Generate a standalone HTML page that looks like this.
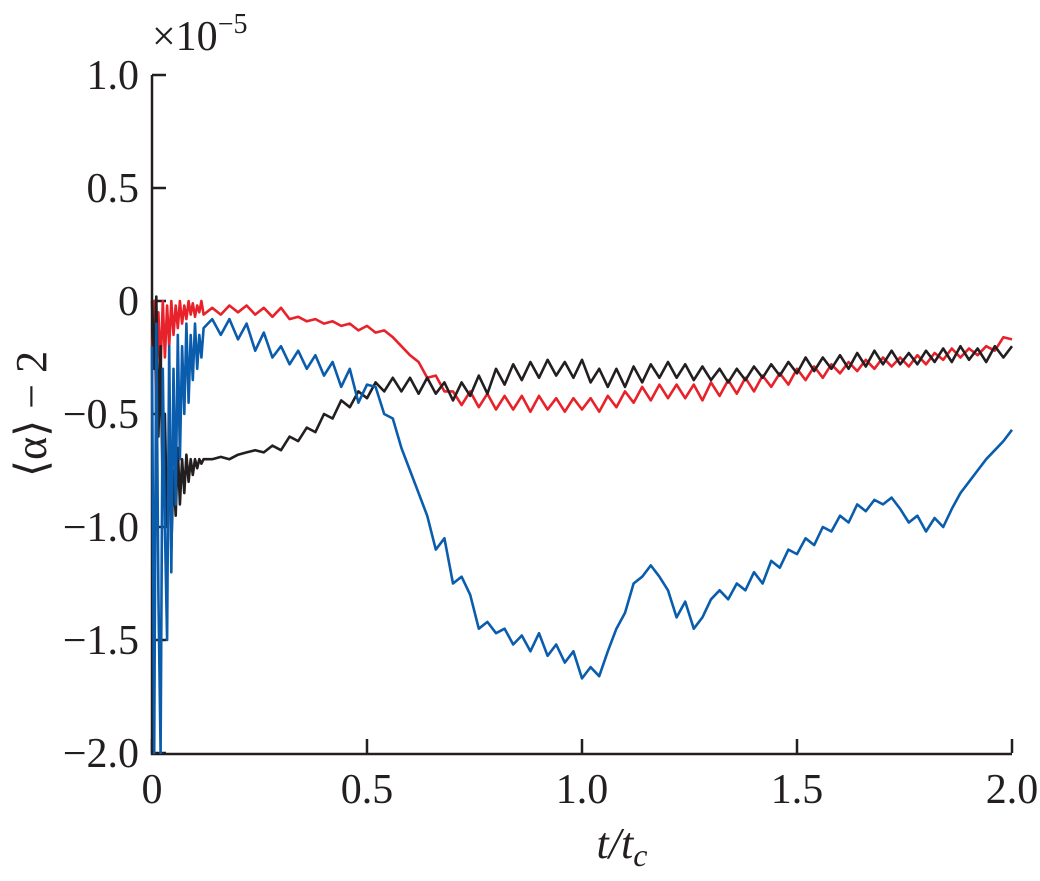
<!DOCTYPE html>
<html><head><meta charset="utf-8"><style>
body{margin:0;background:#fff}
svg text{font-family:"Liberation Serif","DejaVu Serif",serif;fill:#231f20}
</style></head><body>
<svg id="chart" width="1040" height="876" viewBox="0 0 1040 876" xmlns="http://www.w3.org/2000/svg">
<defs><clipPath id="clip"><rect x="140" y="60" width="880" height="694"/></clipPath></defs>
<g id="axes"></g>
<g id="series" clip-path="url(#clip)"></g>
</svg>
<script>
const xTicks=[0,0.5,1.0,1.5,2.0];
const xTickLabels=["0","0.5","1.0","1.5","2.0"];
const yTicks=[1.0,0.5,0,-0.5,-1.0,-1.5,-2.0];
const yTickLabels=["1.0","0.5","0","\u22120.5","\u22121.0","\u22121.5","\u22122.0"];
const tEarly=[0,0.005,0.01,0.015,0.02,0.025,0.03,0.035,0.04,0.045,0.05,0.055,0.06,0.065,0.07,0.075,0.08,0.085,0.09,0.095,0.1,0.105,0.11,0.115,0.12];
const tLate=[0.14,0.16,0.18,0.2,0.22,0.24,0.26,0.28,0.3,0.32,0.34,0.36,0.38,0.4,0.42,0.44,0.46,0.48,0.5,0.52,0.54,0.56,0.58,0.6,0.62,0.64,0.66,0.68,0.7,0.72,0.74,0.76,0.78,0.8,0.82,0.84,0.86,0.88,0.9,0.92,0.94,0.96,0.98,1.0,1.02,1.04,1.06,1.08,1.1,1.12,1.14,1.16,1.18,1.2,1.22,1.24,1.26,1.28,1.3,1.32,1.34,1.36,1.38,1.4,1.42,1.44,1.46,1.48,1.5,1.52,1.54,1.56,1.58,1.6,1.62,1.64,1.66,1.68,1.7,1.72,1.74,1.76,1.78,1.8,1.82,1.84,1.86,1.88,1.9,1.92,1.94,1.96,1.98,2.0];
const blackVals=[0,-0.3,0.02,-0.6,-0.2,-0.9,-0.5,-1.0,-0.7,-1.1,-0.75,-0.95,-0.65,-0.9,-0.7,-0.85,-0.68,-0.8,-0.7,-0.77,-0.7,-0.74,-0.7,-0.72,-0.7,
-0.70,-0.69,-0.70,-0.68,-0.67,-0.66,-0.67,-0.64,-0.66,-0.60,-0.62,-0.56,-0.58,-0.50,-0.52,-0.44,-0.47,-0.40,-0.43,-0.36,-0.40,-0.34,-0.40,-0.34,-0.41,-0.34,-0.41,-0.36,-0.44,-0.36,-0.42,-0.33,-0.41,-0.30,-0.37,-0.28,-0.35,-0.27,-0.34,-0.26,-0.33,-0.27,-0.34,-0.26,-0.36,-0.30,-0.38,-0.30,-0.38,-0.29,-0.36,-0.28,-0.34,-0.27,-0.34,-0.28,-0.35,-0.29,-0.35,-0.30,-0.36,-0.30,-0.35,-0.29,-0.34,-0.28,-0.33,-0.27,-0.32,-0.25,-0.31,-0.25,-0.30,-0.24,-0.30,-0.23,-0.29,-0.22,-0.28,-0.22,-0.28,-0.23,-0.28,-0.22,-0.27,-0.21,-0.27,-0.20,-0.26,-0.21,-0.27,-0.20,-0.25,-0.20];
const redVals=[-0.3,0.0,-0.5,-0.05,-0.3,0.0,-0.25,-0.02,-0.2,0.0,-0.15,-0.02,-0.12,0.0,-0.1,-0.02,-0.08,0.0,-0.06,-0.01,-0.07,-0.02,-0.05,0.0,-0.06,
-0.03,-0.06,-0.02,-0.05,-0.02,-0.06,-0.03,-0.07,-0.03,-0.08,-0.07,-0.09,-0.08,-0.10,-0.09,-0.11,-0.10,-0.13,-0.11,-0.14,-0.13,-0.16,-0.20,-0.24,-0.27,-0.34,-0.33,-0.40,-0.40,-0.46,-0.40,-0.47,-0.41,-0.48,-0.42,-0.48,-0.42,-0.49,-0.42,-0.48,-0.43,-0.49,-0.43,-0.48,-0.43,-0.49,-0.42,-0.47,-0.40,-0.45,-0.38,-0.44,-0.37,-0.43,-0.37,-0.43,-0.37,-0.44,-0.36,-0.42,-0.35,-0.41,-0.34,-0.40,-0.33,-0.38,-0.32,-0.37,-0.30,-0.35,-0.29,-0.34,-0.28,-0.32,-0.27,-0.31,-0.26,-0.30,-0.25,-0.29,-0.25,-0.29,-0.24,-0.28,-0.23,-0.26,-0.21,-0.25,-0.21,-0.24,-0.20,-0.22,-0.16,-0.17];
const blueVals=[-0.2,-2.0,-0.1,-1.3,-2.0,-0.3,-1.0,-1.5,-0.2,-1.2,-0.3,-0.9,-0.15,-0.7,-0.2,-0.5,-0.1,-0.45,-0.15,-0.35,-0.1,-0.3,-0.15,-0.25,-0.12,
-0.08,-0.15,-0.08,-0.17,-0.10,-0.22,-0.14,-0.25,-0.20,-0.28,-0.22,-0.30,-0.24,-0.33,-0.27,-0.38,-0.30,-0.45,-0.37,-0.38,-0.50,-0.52,-0.65,-0.75,-0.85,-0.95,-1.10,-1.05,-1.25,-1.22,-1.30,-1.45,-1.42,-1.47,-1.45,-1.52,-1.48,-1.55,-1.47,-1.57,-1.52,-1.60,-1.55,-1.67,-1.62,-1.66,-1.55,-1.45,-1.38,-1.25,-1.22,-1.17,-1.22,-1.28,-1.40,-1.33,-1.45,-1.40,-1.32,-1.28,-1.32,-1.25,-1.28,-1.20,-1.25,-1.15,-1.18,-1.10,-1.12,-1.05,-1.08,-1.00,-1.02,-0.95,-0.98,-0.90,-0.93,-0.88,-0.90,-0.87,-0.92,-0.98,-0.95,-1.02,-0.96,-1.00,-0.92,-0.85,-0.80,-0.75,-0.70,-0.66,-0.62,-0.57];

const X0=152,X1=1012,Y0=753,Y1=75;
const xs=v=>X0+(v-0)/(2.0)*(X1-X0);
const ys=v=>Y0-(v-(-2.0))/3.0*(Y0-Y1);
const NS="http://www.w3.org/2000/svg";
const axes=document.getElementById('axes'),series=document.getElementById('series');
function mk(tag,attrs,parent){const e=document.createElementNS(NS,tag);for(const k in attrs)e.setAttribute(k,attrs[k]);parent.appendChild(e);return e;}

let ax=mk('path',{d:`M${X0} ${Y1} V${Y0+1} H${X1}`,stroke:'#231f20','stroke-width':2.5,fill:'none'},axes);


xTicks.forEach((v,i)=>{
  const t=mk('line',{x1:xs(v),x2:xs(v),y1:Y0,y2:Y0-14,stroke:'#231f20','stroke-width':2.5},axes);
  
  
  const l=mk('text',{x:xs(v),y:Y0+50,'text-anchor':'middle','font-size':42},axes);
  l.textContent=xTickLabels[i];
  
  
});
yTicks.forEach((v,i)=>{
  const t=mk('line',{x1:X0,x2:X0+14,y1:ys(v),y2:ys(v),stroke:'#231f20','stroke-width':2.5},axes);
  
  
  const l=mk('text',{x:139,y:ys(v)+14,'text-anchor':'end','font-size':42},axes);
  l.textContent=yTickLabels[i];
  
  
});
const ex=mk('text',{x:152,y:50,'font-size':42},axes);
ex.innerHTML='×10<tspan dy="-17" font-size="28">−5</tspan>';


const xt=mk('text',{x:622,y:858,'text-anchor':'middle','font-size':44,'font-style':'italic'},axes);
xt.innerHTML='t/t<tspan dy="8" font-size="32">c</tspan>';


const yt=mk('text',{x:0,y:0,'text-anchor':'middle','font-size':44,transform:'translate(46,414) rotate(-90)'},axes);
yt.textContent='⟨α⟩ − 2';



const tAll=tEarly.concat(tLate);
function draw(vals,color,name){
  const d=vals.map((v,i)=>(i?'L':'M')+xs(tAll[i]).toFixed(1)+' '+ys(v).toFixed(1)).join(' ');
  const p=mk('path',{d:d,stroke:color,'stroke-width':2.6,fill:'none','stroke-linejoin':'round'},series);
  
  
}
draw(redVals,'#e8222a','red-series-line');
draw(blackVals,'#231f20','black-series-line');
draw(blueVals,'#0a5cad','blue-series-line');
</script>
</body></html>
